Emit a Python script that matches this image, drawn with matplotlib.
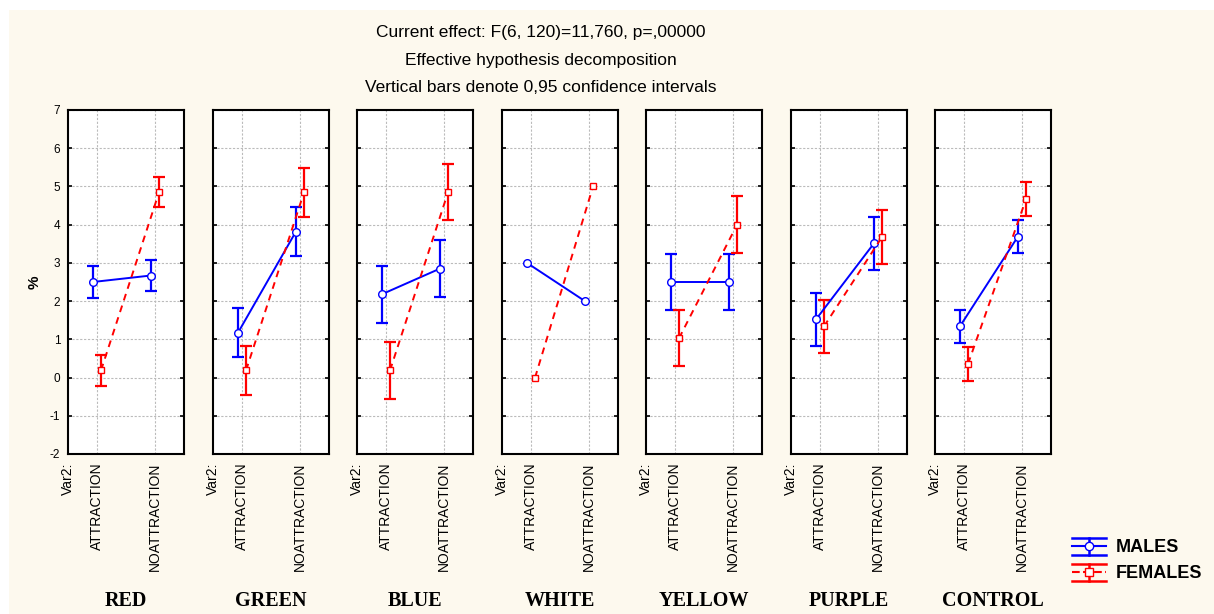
"""Interaction plot: percentage by colour, attraction condition and sex."""
import matplotlib

matplotlib.use("Agg")
import matplotlib.pyplot as plt
from matplotlib.legend_handler import HandlerBase
from matplotlib.lines import Line2D
from matplotlib.patches import Rectangle

plt.rcParams["font.family"] = ["Liberation Sans", "DejaVu Sans"]
plt.rcParams["axes.unicode_minus"] = False

groups = ["RED", "GREEN", "BLUE", "WHITE", "YELLOW", "PURPLE", "CONTROL"]
levels = ["ATTRACTION", "NOATTRACTION"]
males_mean = [[2.50, 2.67], [1.17, 3.82], [2.18, 2.85], [3.00, 2.00],
              [2.50, 2.50], [1.52, 3.51], [1.34, 3.69]]
males_ci = [0.41, 0.64, 0.74, 0.0, 0.74, 0.70, 0.44]
females_mean = [[0.19, 4.85], [0.19, 4.85], [0.19, 4.85], [0.00, 5.00],
                [1.03, 4.00], [1.34, 3.68], [0.36, 4.67]]
females_ci = [0.40, 0.64, 0.74, 0.0, 0.74, 0.70, 0.44]
title_lines = ["Current effect: F(6, 120)=11,760, p=,00000",
               "Effective hypothesis decomposition",
               "Vertical bars denote 0,95 confidence intervals"]

BLUE = "#0000FF"
RED = "#FF0000"
CREAM = "#FDF9EE"
W, H = 1214, 614
DASH = (0, (3.5, 2.8))


class ErrbarHandler(HandlerBase):
    """Legend key drawn like the STATISTICA errorbar symbol."""

    def create_artists(self, legend, orig_handle, xdescent, ydescent,
                       width, height, fontsize, trans):
        c = orig_handle.get_color()
        x0, y0 = -xdescent, -ydescent
        xm, ym = x0 + width / 2, y0 + height / 2
        arts = [
            Line2D([x0, x0 + width], [y0, y0], color=c, lw=1.8),
            Line2D([x0, x0 + width], [y0 + height] * 2, color=c, lw=1.8),
            Line2D([x0, x0 + width], [ym, ym], color=c, lw=1.5,
                   linestyle=orig_handle.get_linestyle()),
            Line2D([xm, xm], [y0, y0 + height], color=c, lw=1.8),
            Line2D([xm], [ym], marker=orig_handle.get_marker(), markersize=6,
                   markerfacecolor="white", markeredgecolor=c, lw=0),
        ]
        for a in arts:
            a.set_transform(trans)
        return arts


fig = plt.figure(figsize=(W / 100, H / 100), dpi=100, facecolor="white")
fig.patches.append(Rectangle((9 / W, 0), 1, 1 - 10 / H, transform=fig.transFigure,
                             facecolor=CREAM, edgecolor="none", zorder=-1))

lefts = [68, 213, 357, 502, 646, 791, 935]
x = [0, 1]
for i, g in enumerate(groups):
    ax = fig.add_axes([lefts[i] / W, 1 - 454 / H, 116 / W, 344 / H])
    ax.set_facecolor("white")
    xm = [v - 0.07 for v in x]
    xf = [v + 0.07 for v in x]
    if males_ci[i] > 0:
        ax.errorbar(xm, males_mean[i], yerr=males_ci[i], fmt="none", ecolor=BLUE,
                    elinewidth=1.6, capsize=4, capthick=1.6, zorder=3)
    ax.plot(xm, males_mean[i], color=BLUE, lw=1.4, marker="o", markersize=5.5,
            markerfacecolor="white", markeredgecolor=BLUE, zorder=4)
    if females_ci[i] > 0:
        ax.errorbar(xf, females_mean[i], yerr=females_ci[i], fmt="none", ecolor=RED,
                    elinewidth=1.6, capsize=4, capthick=1.6, zorder=3)
    ax.plot(xf, females_mean[i], color=RED, lw=1.4, linestyle=DASH,
            marker="s", markersize=5, markerfacecolor="white",
            markeredgecolor=RED, zorder=4)

    ax.set_xlim(-0.5, 1.5)
    ax.set_ylim(-2, 7)
    ax.set_yticks(range(-2, 8))
    ax.set_xticks(x)
    ax.set_xticklabels(levels, rotation=90, fontsize=10, va="top", ha="center")
    ax.grid(True, color="#BBBBBB", linestyle=(0, (2, 1.5)), lw=0.8)
    ax.set_axisbelow(True)
    ax.tick_params(axis="y", direction="in", left=True, right=True, length=3,
                   width=1.2, labelsize=8.5, pad=5.5, labelleft=(i == 0))
    ax.tick_params(axis="x", length=0, pad=6)
    for s in ax.spines.values():
        s.set_linewidth(1.5)
    ax.annotate("Var2:", xy=(0, 0), xycoords="axes fraction", xytext=(0, -6),
                textcoords="offset points", rotation=90, ha="center", va="top",
                fontsize=10)
    fig.text((lefts[i] + 58) / W, 1 - 601 / H, g, ha="center", va="center",
             fontsize=14.5, fontweight="bold", family="Liberation Serif")
    if i == 0:
        ax.set_ylabel("%", fontsize=11, fontweight="bold", labelpad=6)

for k, line in enumerate(title_lines):
    fig.text(541 / W, 1 - (33 + 27 * k) / H, line, ha="center", va="center",
             fontsize=12.5)

handles = [Line2D([], [], color=BLUE, marker="o", linestyle="-"),
           Line2D([], [], color=RED, marker="s", linestyle=DASH)]
fig.legend(handles, ["MALES", "FEMALES"], handler_map={Line2D: ErrbarHandler()},
           loc="center left", bbox_to_anchor=(1072 / W, 1 - 560 / H),
           frameon=False, borderpad=0, borderaxespad=0, handlelength=1.9,
           handleheight=1.1, handletextpad=0.55, labelspacing=0.39,
           prop={"size": 13, "weight": "bold"})

fig.savefig("out.png", dpi=100, facecolor=fig.get_facecolor())
